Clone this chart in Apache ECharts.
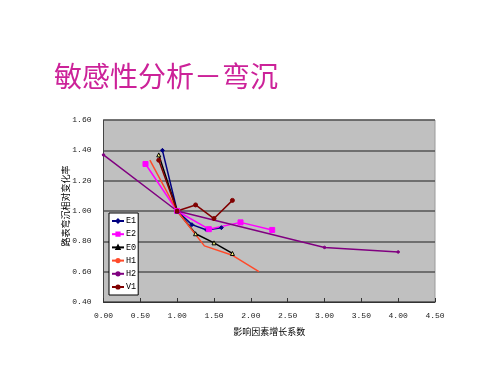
<!DOCTYPE html>
<html>
<head>
<meta charset="utf-8">
<script src="https://cdn.jsdelivr.net/npm/echarts@6/dist/echarts.min.js"></script>
<style>
html,body{margin:0;padding:0;background:#fff;}
#chart{width:500px;height:375px;}
</style>
</head>
<body>
<div id="chart"></div>
<script>
// Data: [growth factor, relative change rate of deflection]
var titleText = "敏感性分析－弯沉";
var xAxisName = "影响因素增长系数";
var yAxisName = "路表弯沉相对变化率";
var seriesNames = ["E1", "E2", "E0", "H1", "H2", "V1"];
var E1 = [[0.80, 1.40], [1.00, 1.00], [1.20, 0.91], [1.40, 0.875], [1.60, 0.89]];
var E2 = [[0.57, 1.31], [1.00, 1.00], [1.43, 0.88], [1.86, 0.925], [2.29, 0.875]];
var E0 = [[0.75, 1.37], [1.00, 1.00], [1.25, 0.85], [1.50, 0.79], [1.75, 0.72]];
var H1 = [[0.63, 1.335], [1.00, 1.00], [1.37, 0.77], [1.74, 0.71], [2.11, 0.60]];
var H2 = [[0.00, 1.37], [1.00, 1.00], [3.00, 0.76], [4.00, 0.73]];
var V1 = [[0.75, 1.335], [1.00, 1.00], [1.25, 1.04], [1.50, 0.95], [1.75, 1.07]];

var chart = echarts.init(document.getElementById('chart'), null, {renderer: 'canvas'});
var monoFont = 'Liberation Mono';
function mk(name, data, color, symbol, size, fill) {
  return {
    name: name, type: 'line', data: data,
    symbol: symbol, symbolSize: size, showSymbol: true,
    lineStyle: {color: color, width: 1.5},
    itemStyle: {color: fill || color, borderColor: color, borderWidth: 1},
    emphasis: {disabled: true}, animation: false, z: 3
  };
}
var option = {
  animation: false,
  backgroundColor: '#ffffff',
  title: {
    text: titleText, left: 49, top: 57,
    textStyle: {color: '#cc2299', fontSize: 28, fontWeight: 'normal', fontFamily: 'Noto Sans CJK SC'}
  },
  grid: {
    left: 103.5, right: 65, top: 120, bottom: 73,
    show: true, backgroundColor: '#c0c0c0', borderColor: '#9a9a9a', borderWidth: 1
  },
  legend: {
    orient: 'vertical', left: 109, top: 213,
    data: seriesNames,
    backgroundColor: '#ffffff', borderColor: '#000000', borderWidth: 1,
    padding: [3, 2, 3, 2], itemGap: 3.2, itemWidth: 12, itemHeight: 4,
    textStyle: {fontFamily: monoFont, fontSize: 8.5, color: '#000', lineHeight: 10, padding: [0, 0, 0, -3]},
    itemStyle: {}
  },
  xAxis: {
    type: 'value', min: 0, max: 4.5, interval: 0.5,
    name: xAxisName, nameLocation: 'middle', nameGap: 25, nameMoveOverlap: false,
    nameTextStyle: {fontFamily: 'Noto Sans CJK SC', fontSize: 9, color: '#000'},
    axisLine: {show: true, lineStyle: {color: '#333', width: 1}},
    axisTick: {show: true, inside: true, length: 4, lineStyle: {color: '#333'}},
    axisLabel: {fontFamily: monoFont, fontSize: 8, color: '#222', margin: 10,
      formatter: function (v) { return v.toFixed(2); }},
    splitLine: {show: false}
  },
  yAxis: {
    type: 'value', min: 0.4, max: 1.6, interval: 0.2,
    name: yAxisName, nameLocation: 'middle', nameGap: 33, nameRotate: 90, nameMoveOverlap: false,
    nameTextStyle: {fontFamily: 'Noto Sans CJK SC', fontSize: 9, color: '#000', padding: [0, 0, 0, 10]},
    axisLine: {show: true, lineStyle: {color: '#444', width: 1}},
    axisTick: {show: false},
    axisLabel: {fontFamily: monoFont, fontSize: 8, color: '#222', margin: 12,
      formatter: function (v) { return v.toFixed(2); }},
    splitLine: {show: true, lineStyle: {color: '#555555', width: 1.5}}
  },
  series: [
    mk('E1', E1, '#000080', 'diamond', 4),
    mk('E2', E2, '#ff00ff', 'rect', 5),
    mk('E0', E0, '#000000', 'triangle', 4, '#ffff80'),
    mk('H1', H1, '#ff4a2a', 'none', 3),
    mk('H2', H2, '#800080', 'circle', 2.5),
    mk('V1', V1, '#800000', 'circle', 4)
  ]
};
chart.setOption(option);
</script>
</body>
</html>
